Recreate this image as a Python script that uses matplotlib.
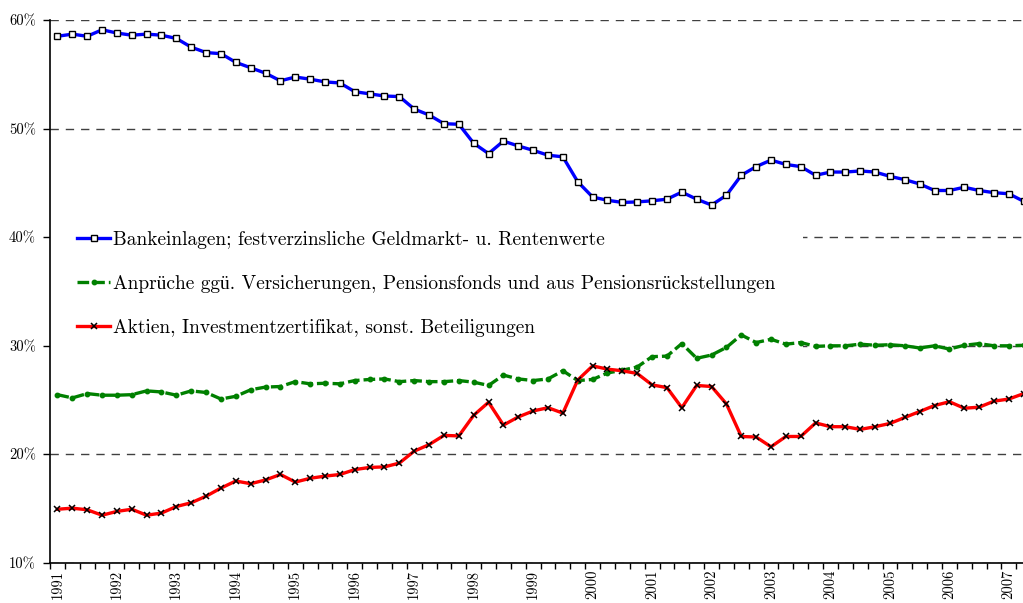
import matplotlib
matplotlib.use("Agg")
import matplotlib.pyplot as plt
from matplotlib.patches import Rectangle
from matplotlib.ticker import FixedLocator, FuncFormatter

plt.rcParams['font.family'] = ['cmr10', 'Liberation Serif']
plt.rcParams['axes.formatter.use_mathtext'] = True

# Quartalswerte 1991 Q1 .. 2007 Q2, Anteile in %
years = [str(y) for y in range(1991, 2008)]

bank = [58.5, 58.7, 58.5, 59.1, 58.8, 58.6, 58.7, 58.6, 58.3, 57.5, 57.0, 56.9,
        56.1, 55.6, 55.1, 54.4, 54.75, 54.55, 54.3, 54.2, 53.4, 53.2, 53.0, 52.95,
        51.8, 51.25, 50.45, 50.4, 48.65, 47.7, 48.85, 48.4, 48.0, 47.55, 47.4, 45.1,
        43.7, 43.4, 43.2, 43.25, 43.35, 43.5, 44.15, 43.5, 42.96, 43.86, 45.7, 46.5,
        47.1, 46.7, 46.5, 45.7, 46.0, 46.0, 46.1, 46.0, 45.6, 45.3, 44.9, 44.3,
        44.3, 44.6, 44.3, 44.1, 44.0, 43.3]

versich = [25.5, 25.2, 25.6, 25.45, 25.45, 25.5, 25.85, 25.75, 25.45, 25.85, 25.7, 25.1,
           25.35, 25.95, 26.2, 26.25, 26.7, 26.5, 26.55, 26.5, 26.8, 26.9, 26.95, 26.7,
           26.8, 26.7, 26.7, 26.8, 26.65, 26.35, 27.3, 26.95, 26.8, 26.95, 27.7, 26.8,
           26.9, 27.5, 27.75, 28.05, 29.0, 29.05, 30.2, 28.85, 29.15, 29.85, 31.0, 30.3,
           30.6, 30.15, 30.3, 29.95, 30.0, 30.0, 30.15, 30.05, 30.1, 30.0, 29.8, 30.0,
           29.7, 30.05, 30.2, 30.0, 30.0, 30.05]

aktien = [14.95, 15.05, 14.9, 14.4, 14.75, 14.95, 14.4, 14.6, 15.2, 15.55, 16.15, 16.9,
          17.55, 17.3, 17.65, 18.15, 17.45, 17.8, 18.0, 18.15, 18.6, 18.8, 18.85, 19.2,
          20.3, 20.9, 21.75, 21.7, 23.6, 24.8, 22.7, 23.45, 24.0, 24.3, 23.8, 26.85,
          28.15, 27.85, 27.7, 27.45, 26.4, 26.15, 24.3, 26.35, 26.25, 24.65, 21.65, 21.6,
          20.7, 21.65, 21.65, 22.9, 22.55, 22.55, 22.3, 22.55, 22.85, 23.4, 23.95, 24.5,
          24.85, 24.25, 24.35, 24.9, 25.1, 25.6]

labels = ["Bankeinlagen; festverzinsliche Geldmarkt- u. Rentenwerte",
          "Anprüche ggü. Versicherungen, Pensionsfonds und aus Pensionsrückstellungen",
          "Aktien, Investmentzertifikat, sonst. Beteiligungen"]

x = list(range(len(bank)))

fig = plt.figure(figsize=(10.23, 6.03), dpi=100)
ax = fig.add_axes([50/1023, 1 - 563/603, 973/1023, 543/603])

ax.plot(x, bank, color='#0000ff', lw=2.4, marker='s', ms=4, mfc='white',
        mec='black', mew=1.0, zorder=4, label=labels[0])
ax.plot(x, versich, color='#008000', lw=2.4, ls=(0, (3.5, 1.2)), marker='o', ms=3.2,
        mec='#008000', zorder=3, label=labels[1])
ax.plot(x, aktien, color='#ff0000', lw=2.4, marker='x', ms=5, mec='black',
        mew=1.1, zorder=4, label=labels[2])

ax.set_xlim(-0.5, 64.95)
ax.set_ylim(10, 60)

# gridlines
ax.set_axisbelow(True)
ax.yaxis.grid(True, color='0.25', ls=(0, (6, 5)), lw=1.0)
ax.xaxis.grid(False)

# white box behind legend
ax.add_patch(Rectangle((0, 0.392), 0.774, 0.262, transform=ax.transAxes,
                       facecolor='white', edgecolor='none', zorder=1))

leg = ax.legend(loc='upper left', bbox_to_anchor=(0.028, 0.611), frameon=False,
                fontsize=14, handlelength=1.7, handletextpad=0.15,
                labelspacing=1.33, borderpad=0, borderaxespad=0)

ax.set_yticks([10, 20, 30, 40, 50, 60])
ax.yaxis.set_major_formatter(FuncFormatter(lambda v, p: f"{int(v)}%"))
ax.tick_params(axis='y', direction='out', length=5, width=1, labelsize=10.5, pad=5)

ax.set_xticks(list(range(0, len(years) * 4, 4)))
ax.set_xticklabels(years, rotation=90, va='top', ha='center')
ax.xaxis.set_minor_locator(FixedLocator([i - 0.5 for i in range(len(bank) + 1)]))
ax.tick_params(axis='x', which='major', length=0, labelsize=10.5, pad=5)
ax.tick_params(axis='x', which='minor', direction='out', length=4, width=1)

for s in ['top', 'right']:
    ax.spines[s].set_visible(False)
ax.spines['left'].set_linewidth(1.2)
ax.spines['bottom'].set_linewidth(1.2)

fig.savefig('out.png', dpi=100)
